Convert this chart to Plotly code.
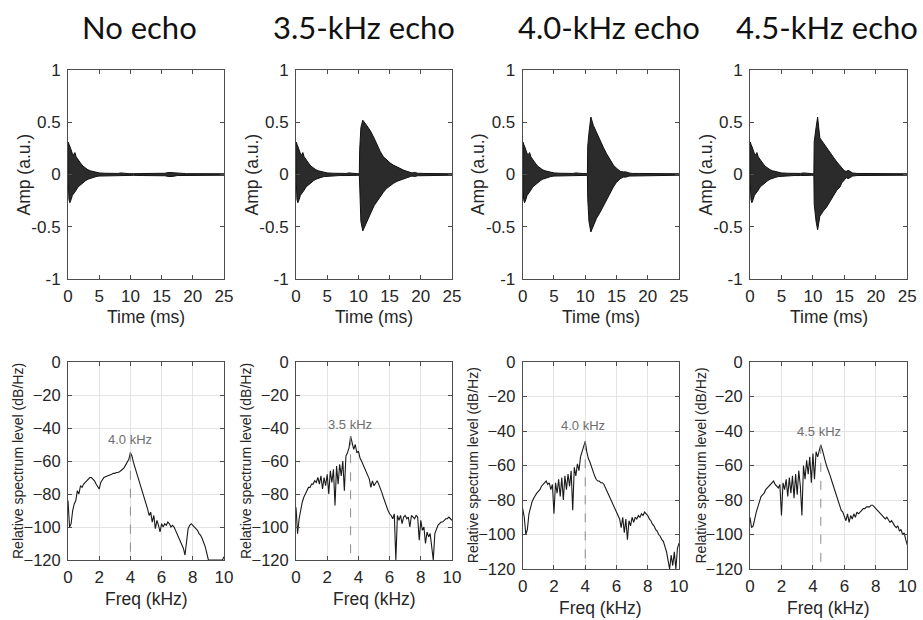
import numpy as np
import plotly.graph_objects as go

# ---------------- DATA ----------------
titles = ["No echo", "3.5-kHz echo", "4.0-kHz echo", "4.5-kHz echo"]
title_px = [139, 364, 609, 827]

direct_t = [0, 0.05, 0.15, 0.3, 0.5, 0.7, 0.9, 1.1, 1.3, 1.6, 2.0, 2.4, 2.8, 3.2, 3.6, 4.0, 4.5, 5.0, 6.0, 7.0, 8.0, 8.5, 9.0, 9.8]
direct_up = [0, 0.31, 0.29, 0.27, 0.24, 0.20, 0.19, 0.21, 0.17, 0.14, 0.11, 0.08, 0.06, 0.045, 0.035, 0.028, 0.02, 0.015, 0.012, 0.01, 0.01, 0.015, 0.01, 0.008]
direct_lo = [0, -0.12, -0.24, -0.27, -0.24, -0.20, -0.18, -0.17, -0.15, -0.12, -0.10, -0.08, -0.06, -0.045, -0.035, -0.028, -0.02, -0.015, -0.012, -0.01, -0.01, -0.015, -0.01, -0.008]

tail0_t = [10.5, 12, 14, 15.5, 16.2, 16.8, 17.5, 19, 21, 23, 25]
tail0_up = [0.008, 0.01, 0.008, 0.012, 0.02, 0.018, 0.01, 0.008, 0.008, 0.007, 0.007]
tail0_lo = [-0.008, -0.01, -0.008, -0.012, -0.02, -0.018, -0.01, -0.008, -0.008, -0.007, -0.007]

tail35_t = [10.15, 10.2, 10.4, 10.7, 11.2, 11.9, 12.5, 13.0, 13.5, 14.0, 14.5, 15.1, 15.6, 16.2, 16.7, 17.3, 17.8, 18.3, 18.6, 19.0, 19.5, 20.5, 22, 23.5, 25]
tail35_up = [0.008, 0.23, 0.45, 0.52, 0.48, 0.42, 0.35, 0.28, 0.22, 0.17, 0.14, 0.11, 0.09, 0.07, 0.055, 0.04, 0.03, 0.02, 0.015, 0.02, 0.012, 0.01, 0.008, 0.008, 0.007]
tail35_lo = [-0.008, -0.21, -0.45, -0.54, -0.47, -0.38, -0.30, -0.25, -0.21, -0.17, -0.135, -0.105, -0.085, -0.065, -0.05, -0.04, -0.03, -0.02, -0.015, -0.02, -0.012, -0.01, -0.008, -0.008, -0.007]

tail40_t = [10.35, 10.4, 10.6, 10.9, 11.3, 11.8, 12.4, 12.9, 13.4, 14.0, 14.5, 15.0, 15.6, 16.1, 16.5, 17.0, 17.5, 18.5, 20, 22, 25]
tail40_up = [0.008, 0.27, 0.40, 0.55, 0.47, 0.40, 0.33, 0.26, 0.20, 0.14, 0.09, 0.06, 0.03, 0.025, 0.025, 0.015, 0.01, 0.01, 0.008, 0.008, 0.007]
tail40_lo = [-0.008, -0.23, -0.45, -0.55, -0.50, -0.42, -0.36, -0.31, -0.25, -0.18, -0.12, -0.075, -0.04, -0.025, -0.025, -0.015, -0.01, -0.01, -0.008, -0.008, -0.007]

tail45_t = [10.15, 10.2, 10.5, 10.75, 11.1, 11.65, 12.2, 12.7, 13.2, 13.8, 14.3, 14.6, 15.0, 15.3, 15.6, 15.9, 16.3, 17, 18, 19.5, 21, 23, 25]
tail45_up = [0.008, 0.31, 0.45, 0.55, 0.35, 0.30, 0.25, 0.21, 0.17, 0.12, 0.08, 0.06, 0.035, 0.03, 0.04, 0.03, 0.015, 0.01, 0.01, 0.008, 0.008, 0.007, 0.007]
tail45_lo = [-0.008, -0.28, -0.45, -0.53, -0.40, -0.35, -0.31, -0.26, -0.21, -0.15, -0.12, -0.08, -0.05, -0.03, -0.04, -0.03, -0.015, -0.01, -0.01, -0.008, -0.008, -0.007, -0.007]

freq_khz = [round(i * 0.1, 1) for i in range(101)]

spec_no_echo = [
    -84, -100, -98, -90, -86, -84, -78, -80, -75, -76,
    -74, -73, -72, -71, -70, -70, -71, -72, -74, -76,
    -77, -73, -71, -70, -69.5, -69, -68.5, -68, -68, -67.5,
    -67.5, -67, -67, -66.5, -66, -65, -64, -62.5, -61, -59,
    -55, -57, -61, -64, -67, -70, -73, -76, -79, -82,
    -86, -89, -93, -91, -97, -93, -101, -96, -99, -103,
    -98, -100, -98, -99, -97, -98, -100, -99, -100, -102,
    -104, -106, -108, -110, -113, -117, -108, -101, -99, -98,
    -99, -100, -101, -102, -104, -105, -107, -109, -112, -116,
    -120, -120, -120, -120, -120, -120, -120, -120, -120, -120,
    -118]

spec_35 = [
    -88, -104, -95, -89, -85, -82, -80, -78, -76, -76,
    -74, -74, -72, -73, -70, -74, -69, -77, -70, -75,
    -68, -80, -66, -73, -65, -87, -63, -74, -62, -69,
    -60, -78, -57, -55, -52, -45, -49, -53, -50, -55,
    -54, -58, -60, -62, -64, -66, -68, -71, -76, -72,
    -75, -73, -72, -74, -76, -79, -82, -85, -88, -90,
    -92, -93, -95, -92, -120, -93, -96, -93, -98, -94,
    -93, -95, -94, -100, -93, -94, -95, -93, -94, -108,
    -96, -102, -100, -110, -103, -106, -104, -112, -120, -104,
    -101, -99, -98, -97, -97, -96, -95, -95, -94, -95,
    -96]

spec_40 = [
    -85, -90, -100, -97, -88, -84, -81, -79, -77, -76,
    -75, -74, -72, -71, -70, -69, -71, -70, -74, -71,
    -88, -70, -76, -68, -78, -67, -80, -66, -74, -65,
    -72, -63, -86, -61, -66, -59, -63, -55, -52, -49,
    -46, -52, -56, -58, -61, -63, -66, -68, -69, -69,
    -70, -70, -71, -73, -75, -77, -79, -81, -84, -86,
    -88, -89, -91, -96, -90, -99, -91, -103, -92, -95,
    -90, -93, -90, -91, -89, -90, -88, -89, -87, -88,
    -89, -91, -92, -94, -95, -97, -98, -100, -101, -103,
    -104, -107, -110, -115, -120, -112, -118, -110, -120, -108,
    -105]

spec_45 = [
    -90, -96, -95, -90, -87, -84, -81, -78, -77, -76,
    -74, -73, -72, -71, -70, -69, -71, -72, -73, -71,
    -89, -70, -74, -68, -78, -67, -76, -66, -79, -65,
    -77, -63, -72, -89, -60, -68, -57, -65, -55, -70,
    -53, -68, -52, -55, -51, -48, -51, -55, -58, -61,
    -63, -66, -69, -72, -75, -78, -81, -84, -86, -87,
    -89, -92, -88, -93, -89, -91, -88, -90, -87, -88,
    -87, -86, -85, -85, -84, -84, -84, -83, -83, -84,
    -85, -86, -87, -88, -89, -90, -91, -90, -92, -93,
    -92, -94, -95, -96, -95, -98, -97, -100, -99, -103,
    -106]

peak_freqs = [4.0, 3.5, 4.0, 4.5]
peak_levels = [-55, -45, -46, -48]
peak_labels = ["4.0 kHz", "3.5 kHz", "4.0 kHz", "4.5 kHz"]
label_x = [3.95, 3.45, 3.88, 4.4]
label_y = [-47, -38, -37, -40]

time_ticks = [0, 5, 10, 15, 20, 25]
amp_ticks = [-1, -0.5, 0, 0.5, 1]
amp_ticktext = ["-1", "-0.5", "0", "0.5", "1"]
freq_ticks = [0, 2, 4, 6, 8, 10]
level_ticks = [0, -20, -40, -60, -80, -100, -120]

# ---------------- LAYOUT GEOMETRY (window pixels) ----------------
W, H = 923, 620
col_px = [(68, 224), (296, 452), (522.7, 679), (750, 907.3)]
top_row_px = (70, 279)
bot_row_px = [(362, 560), (362, 560), (362, 569), (362, 569)]

def px_x(p):
    return p / W

def px_y(p):
    return 1 - p / H

def xd(a, b):
    return [px_x(a), px_x(b)]

def yd(top, bottom):
    return [px_y(bottom), px_y(top)]

def ids(n):
    s = "" if n == 1 else str(n)
    return "x" + s, "y" + s, "xaxis" + s, "yaxis" + s

tails = [(tail0_t, tail0_up, tail0_lo), (tail35_t, tail35_up, tail35_lo),
         (tail40_t, tail40_up, tail40_lo), (tail45_t, tail45_up, tail45_lo)]
spectra = [spec_no_echo, spec_35, spec_40, spec_45]

FONT = "Liberation Sans, Arial, sans-serif"
AXC = "#4d4d4d"
TXT = "#262626"

fig = go.Figure()

def base_axis(**kw):
    d = dict(showline=True, linecolor=AXC, linewidth=1, mirror="ticks",
             ticks="inside", ticklen=4, tickcolor=AXC, tickwidth=1,
             tickfont=dict(family=FONT, size=17, color=TXT),
             zeroline=False, showgrid=False, fixedrange=True, automargin=False)
    d.update(kw)
    return d

layout = dict(width=W, height=H, autosize=False,
              margin=dict(l=0, r=0, t=0, b=0, pad=0, autoexpand=False),
              paper_bgcolor="white", plot_bgcolor="white", showlegend=False)
annotations = []

for i in range(4):
    xa, ya, xk, yk = ids(i + 1)
    tt, tu, tl = tails[i]
    t = direct_t + tt
    up = direct_up + tu
    lo = direct_lo + tl
    fig.add_trace(go.Scatter(x=t + t[::-1], y=up + lo[::-1], mode="lines",
                             fill="toself", fillcolor="#2b2b2b",
                             line=dict(color="#111111", width=1),
                             xaxis=xa, yaxis=ya, hoverinfo="skip"))
    layout[xk] = base_axis(domain=xd(*col_px[i]), range=[0, 25],
                           tickvals=time_ticks, anchor=ya, ticklabelstandoff=2)
    layout[yk] = base_axis(domain=yd(*top_row_px), range=[-1, 1],
                           tickvals=amp_ticks, ticktext=amp_ticktext,
                           anchor=xa, ticklabelstandoff=3)
    annotations.append(dict(text="Amp (a.u.)", textangle=-90, showarrow=False,
                            xref=f"{xa} domain", yref=f"{ya} domain", x=0, y=0.5,
                            xanchor="center", yanchor="middle", xshift=-45,
                            font=dict(family=FONT, size=17.5, color=TXT)))
    annotations.append(dict(text="Time (ms)", showarrow=False,
                            xref=f"{xa} domain", yref=f"{ya} domain", x=0.5, y=0,
                            xanchor="center", yanchor="middle", yshift=-38,
                            font=dict(family=FONT, size=17.5, color=TXT)))
    annotations.append(dict(text=titles[i], showarrow=False, xref="paper", yref="paper",
                            x=px_x(title_px[i]), y=px_y(27), xanchor="center", yanchor="middle",
                            font=dict(family="Lato, Carlito, sans-serif", size=31, color="#111111")))

    xb, yb, xk2, yk2 = ids(i + 5)
    fig.add_trace(go.Scatter(x=freq_khz, y=spectra[i], mode="lines",
                             line=dict(color="#1a1a1a", width=1.1),
                             xaxis=xb, yaxis=yb, hoverinfo="skip"))
    fig.add_trace(go.Scatter(x=[peak_freqs[i], peak_freqs[i]], y=[peak_levels[i], -120],
                             mode="lines", line=dict(color="#8c8c8c", width=1, dash="dash"),
                             xaxis=xb, yaxis=yb, hoverinfo="skip"))
    layout[xk2] = base_axis(domain=xd(*col_px[i]), range=[0, 10],
                            tickvals=freq_ticks, anchor=yb, showgrid=True,
                            gridcolor="#e3e3e3", gridwidth=1, ticklabelstandoff=2)
    layout[yk2] = base_axis(domain=yd(*bot_row_px[i]), range=[-120, 0],
                            tickvals=level_ticks, anchor=xb, showgrid=True,
                            gridcolor="#e3e3e3", gridwidth=1, ticklabelstandoff=3,
                            tickfont=dict(family=FONT, size=16.5, color=TXT))
    annotations.append(dict(text=peak_labels[i], showarrow=False, xref=xb, yref=yb,
                            x=label_x[i], y=label_y[i], xanchor="center", yanchor="middle",
                            font=dict(family=FONT, size=13, color="#6e6e6e")))
    annotations.append(dict(text="Relative spectrum level (dB/Hz)", textangle=-90, showarrow=False,
                            xref=f"{xb} domain", yref=f"{yb} domain", x=0, y=0.5,
                            xanchor="center", yanchor="middle", xshift=-50,
                            font=dict(family=FONT, size=14, color=TXT)))
    annotations.append(dict(text="Freq (kHz)", showarrow=False,
                            xref=f"{xb} domain", yref=f"{yb} domain", x=0.5, y=0,
                            xanchor="center", yanchor="middle", yshift=-39,
                            font=dict(family=FONT, size=17.5, color=TXT)))

layout["annotations"] = annotations
fig.update_layout(**layout)
# remove the page's default body margin so the figure fills the window exactly
fig.write_html("out.html", config={"displayModeBar": False},
               post_script="document.body.style.margin='0px';document.body.style.overflow='hidden';")
